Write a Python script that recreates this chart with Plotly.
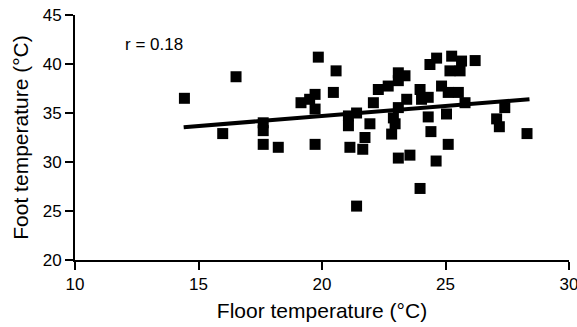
import plotly.graph_objects as go

floor_temp = [14.43, 16.52, 15.98, 17.62, 17.62, 17.62, 18.23, 19.15, 19.5, 19.72,
              19.72, 19.72, 19.85, 20.57, 20.46, 21.07, 21.07, 21.13, 21.4, 21.4,
              21.65, 21.74, 21.94, 22.08, 22.28, 22.68, 22.82, 22.89, 22.96, 23.09,
              23.36, 23.09, 23.43, 23.09, 23.09, 23.56, 23.97, 24.03, 24.3, 24.3,
              24.41, 24.62, 23.97, 24.37, 24.64, 25.25, 25.65, 26.2, 25.18, 25.59,
              24.84, 25.11, 25.52, 25.04, 25.11, 25.79, 27.4, 27.07, 27.18, 28.3]
foot_temp = [36.5, 38.7, 32.9, 34.0, 33.2, 31.8, 31.5, 36.05, 36.4, 36.9,
             35.4, 31.8, 40.7, 39.3, 37.1, 34.7, 33.7, 31.5, 35.0, 25.5,
             31.3, 32.5, 33.9, 36.05, 37.4, 37.75, 32.85, 34.5, 33.9, 39.1,
             38.8, 38.3, 36.4, 35.55, 30.4, 30.7, 37.4, 36.4, 36.6, 34.6,
             33.1, 30.1, 27.3, 39.95, 40.6, 40.8, 40.3, 40.35, 39.3, 39.3,
             37.75, 37.1, 37.1, 34.9, 31.8, 36.05, 35.55, 34.4, 33.6, 32.9]

fit_x = [14.4, 28.4]
fit_y = [33.55, 36.4]

x_ticks = [10, 15, 20, 25, 30]
y_ticks = [20, 25, 30, 35, 40, 45]
r_label = "r = 0.18"

font_family = "Liberation Sans, Arial, sans-serif"

fig = go.Figure()
fig.add_trace(go.Scatter(
    x=floor_temp, y=foot_temp, mode="markers",
    marker=dict(symbol="square", size=11, color="black", line=dict(width=0)),
    showlegend=False,
))
fig.add_trace(go.Scatter(
    x=fit_x, y=fit_y, mode="lines",
    line=dict(color="black", width=4),
    showlegend=False,
))

fig.add_annotation(
    x=13.2, y=42.0, xref="x", yref="y", text=r_label, showarrow=False,
    font=dict(family=font_family, size=17, color="black"),
)

fig.update_xaxes(
    range=[10, 30], tickvals=x_ticks, ticktext=[str(v) for v in x_ticks],
    showline=True, linecolor="black", linewidth=2,
    ticks="outside", ticklen=8, tickwidth=2, tickcolor="black",
    showgrid=False, zeroline=False, ticklabeloverflow="allow",
    tickfont=dict(family=font_family, size=17, color="black"),
    title=dict(text="Floor temperature (°C)", standoff=10,
               font=dict(family=font_family, size=21, color="black")),
    automargin=False,
)
fig.update_yaxes(
    range=[20, 45], tickvals=y_ticks, ticktext=[str(v) for v in y_ticks],
    showline=True, linecolor="black", linewidth=2,
    ticks="outside", ticklen=8, tickwidth=2, tickcolor="black",
    showgrid=False, zeroline=False, ticklabeloverflow="allow",
    tickfont=dict(family=font_family, size=17, color="black"),
    title=dict(text="Foot temperature (°C)", standoff=8,
               font=dict(family=font_family, size=21, color="black")),
    automargin=False,
)

fig.update_layout(
    width=577, height=327,
    margin=dict(l=75, r=8, t=15, b=67),
    paper_bgcolor="white", plot_bgcolor="white",
)

fig.write_html(
    "out.html",
    config={"displayModeBar": False},
    post_script="document.body.style.margin='0px';document.body.style.overflow='hidden';",
)
